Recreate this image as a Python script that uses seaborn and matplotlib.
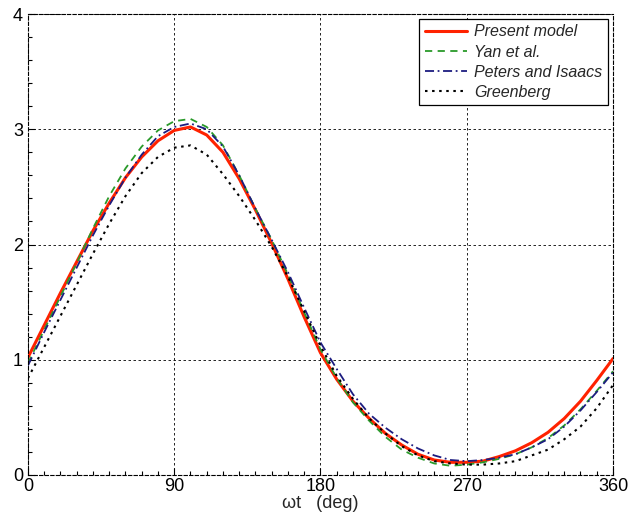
import numpy as np
import pandas as pd
import matplotlib
matplotlib.use("Agg")
import matplotlib.pyplot as plt
import seaborn as sns
from matplotlib.ticker import MultipleLocator

angle = list(range(0, 361, 10))

present_model = [1.02, 1.30, 1.58, 1.85, 2.12, 2.36, 2.58, 2.76, 2.90, 2.99,
                 3.02, 2.95, 2.80, 2.57, 2.30, 2.01, 1.70, 1.37, 1.06, 0.83,
                 0.64, 0.49, 0.36, 0.26, 0.18, 0.13, 0.11, 0.11, 0.12, 0.16,
                 0.21, 0.28, 0.37, 0.49, 0.64, 0.82, 1.01]

yan = [0.97, 1.26, 1.55, 1.84, 2.14, 2.42, 2.66, 2.85, 2.99, 3.07,
       3.09, 3.02, 2.86, 2.60, 2.31, 2.04, 1.74, 1.41, 1.09, 0.84,
       0.63, 0.47, 0.33, 0.22, 0.15, 0.10, 0.08, 0.09, 0.11, 0.14,
       0.18, 0.24, 0.32, 0.43, 0.57, 0.73, 0.90]

peters_isaacs = [0.95, 1.24, 1.52, 1.80, 2.08, 2.34, 2.58, 2.78, 2.94, 3.02,
                 3.05, 3.00, 2.85, 2.60, 2.31, 2.04, 1.76, 1.45, 1.15, 0.92,
                 0.70, 0.53, 0.41, 0.31, 0.23, 0.17, 0.13, 0.12, 0.13, 0.15,
                 0.18, 0.24, 0.31, 0.42, 0.56, 0.72, 0.89]

greenberg = [0.84, 1.11, 1.38, 1.65, 1.92, 2.18, 2.42, 2.62, 2.76, 2.84,
             2.86, 2.78, 2.61, 2.42, 2.21, 1.98, 1.72, 1.42, 1.12, 0.86,
             0.66, 0.49, 0.36, 0.25, 0.17, 0.12, 0.10, 0.09, 0.09, 0.10,
             0.12, 0.17, 0.22, 0.31, 0.42, 0.58, 0.78]

labels = ["Present model", "Yan et al.", "Peters and Isaacs", "Greenberg"]
series = [present_model, yan, peters_isaacs, greenberg]
colors = ["#ff2200", "#2a9a2a", "#1c1c80", "#000000"]
styles = ["-", (0, (4, 3)), (0, (5, 2, 1, 2)), (0, (1.2, 2.2))]
widths = [2.2, 1.3, 1.3, 1.5]

sns.set_theme(style="white")
plt.rcParams["font.family"] = ["Liberation Sans", "DejaVu Sans"]

fig = plt.figure(figsize=(6.33, 5.29), dpi=100)
ax = fig.add_axes([0.0442, 0.1021, 0.9242, 0.8714])

for lab, vals, c, ls, lw in zip(labels, series, colors, styles, widths):
    df = pd.DataFrame({"angle": angle, "value": vals})
    sns.lineplot(data=df, x="angle", y="value", ax=ax, color=c, linestyle=ls,
                 linewidth=lw, label=lab)

ax.set_xlim(0, 360)
ax.set_ylim(0, 4)
ax.xaxis.set_major_locator(MultipleLocator(90))
ax.xaxis.set_minor_locator(MultipleLocator(10))
ax.yaxis.set_major_locator(MultipleLocator(1))
ax.yaxis.set_minor_locator(MultipleLocator(0.2))
ax.tick_params(which="both", direction="in", bottom=True, left=True,
               top=False, right=False, colors="black", labelsize=13)
ax.tick_params(axis="x", which="major", pad=2)
ax.tick_params(which="major", length=5, width=0.8)
ax.tick_params(which="minor", length=3, width=0.8)
ax.grid(True, which="major", color="black", linestyle=(0, (3, 3)), linewidth=0.6)

for s in ax.spines.values():
    s.set_color("black")
    s.set_linewidth(0.8)
    s.set_linestyle((0, (3, 2)))

ax.set_xlabel("ωt   (deg)", fontsize=13, labelpad=0)
ax.set_ylabel("")

leg = ax.legend(loc="upper right", frameon=True, fancybox=False,
                edgecolor="black", framealpha=1, borderaxespad=0.3,
                handlelength=2.6, labelspacing=0.32, borderpad=0.35,
                handletextpad=0.5, prop={"style": "italic", "size": 11.5})
leg.get_frame().set_linewidth(0.9)

fig.savefig("out.png", dpi=100)
